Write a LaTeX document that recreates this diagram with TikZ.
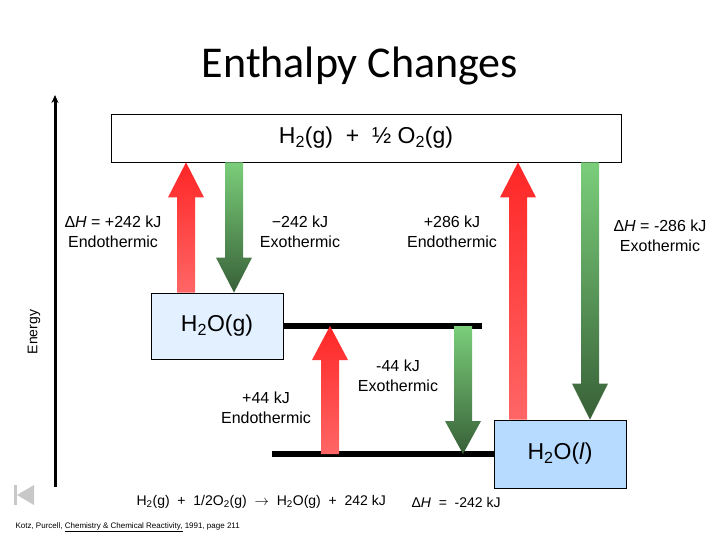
\documentclass[tikz,border=0pt]{standalone}
\usepackage{fontspec}
\setmainfont{Liberation Sans}
\newfontfamily\titlefont{Carlito}
\usetikzlibrary{arrows.meta, positioning, calc}
\definecolor{HotRed}{RGB}{255,38,38}
\definecolor{SoftRed}{RGB}{255,102,102}
\definecolor{LightGreen}{RGB}{122,206,122}
\definecolor{DarkGreen}{RGB}{56,96,56}
\definecolor{PaleBlue}{RGB}{226,240,255}
\definecolor{SkyBlue}{RGB}{183,218,255}
\definecolor{IconGray}{RGB}{200,200,200}

\begin{document}
\begin{tikzpicture}[x=1pt, y=-1pt,
    level/.style={draw=black, line width=0.8pt, inner sep=0pt,
        font=\fontsize{23}{27}\selectfont},
    bar/.style={line width=6pt},
    lbl/.style={align=center, font=\fontsize{16}{19.5}\selectfont},
    note/.style={anchor=west, font=\fontsize{14}{16}\selectfont},
    up/.style={top color=HotRed, bottom color=SoftRed},
    down/.style={top color=LightGreen, bottom color=DarkGreen},
]
\useasboundingbox (0,0) rectangle (720,540);

\node[font=\titlefont\fontsize{44}{48}\selectfont] (title) at (360,66) {Enthalpy Changes};

% ---- energy axis ----
\coordinate (axisbot) at (55,487);
\coordinate (axistop) at (55,95);
\draw[line width=3pt, -{Stealth[length=8pt, width=7pt]}] (axisbot) -- (axistop);
\node[rotate=90, font=\fontsize{14}{16}\selectfont] (energy) at (34,332) {Energy};

% ---- levels ----
\node[level, fill=white, minimum width=510, minimum height=48] (react) at (366,138)
    {H\textsubscript{2}(g) \ + \ ½ O\textsubscript{2}(g)};
\node[level, fill=PaleBlue, minimum width=132, minimum height=66] (gas) at (217,326)
    {H\textsubscript{2}O(g)};
\node[level, fill=SkyBlue, minimum width=132, minimum height=68] (liq) at (560,454)
    {H\textsubscript{2}O(\textit{l})};
\coordinate (gasend) at (482,326);
\coordinate (liqstart) at (272,454);
\draw[bar] (gas.east) -- (gasend);
\draw[bar] (liqstart) -- (liq.west);

% ---- block arrows ----
\foreach \x/\from/\to/\kind/\h in {186/gas.north/react.south/up/35,
    234/react.south/gas.north/down/-35, 518/liq.north/react.south/up/35,
    590/react.south/liq.north/down/-36, 330/liqstart/gasend/up/34,
    463/gasend/liqstart/down/-33}{
    \coordinate (s) at (\x,0 |- \from);
    \coordinate (t) at (\x,0 |- \to);
    \shade[\kind] ($(s)+(-9,0)$) -- ($(t)+(-9,\h)$) -- ($(t)+(-18,\h)$) -- (t)
        -- ($(t)+(18,\h)$) -- ($(t)+(9,\h)$) -- ($(s)+(9,0)$) -- cycle;
}

% ---- labels ----
\node[lbl] (endoA) at (113,232) {Δ\textit{H} = +242 kJ\\Endothermic};
\node[lbl] (exoA) at (300,232) {−242 kJ\\Exothermic};
\node[lbl] (endoB) at (452,232) {+286 kJ\\Endothermic};
\node[lbl] (exoB) at (660,236) {Δ\textit{H} = -286 kJ\\Exothermic};
\node[lbl] (endoC) at (266,408) {+44 kJ\\Endothermic};
\node[lbl] (exoC) at (398,376) {-44 kJ\\Exothermic};

% ---- equation and source ----
\node[note] (eqn) at (133,502) {H\textsubscript{2}(g) \ + \ 1/2O\textsubscript{2}(g) \ $\rightarrow$ \
    H\textsubscript{2}O(g) \ + \ 242 kJ};
\node[note] (dh) at (408,502) {Δ\textit{H} \ = \ -242 kJ};
\node[anchor=west, font=\fontsize{8}{9}\selectfont] (cite) at (12,527)
    {Kotz, Purcell, \underline{Chemistry \& Chemical Reactivity,} 1991, page 211};

% nav icon
\fill[IconGray] (14,485) rectangle (17,505);
\fill[IconGray] (17,495) -- (34,485) -- (34,505) -- cycle;

\end{tikzpicture}
\end{document}
